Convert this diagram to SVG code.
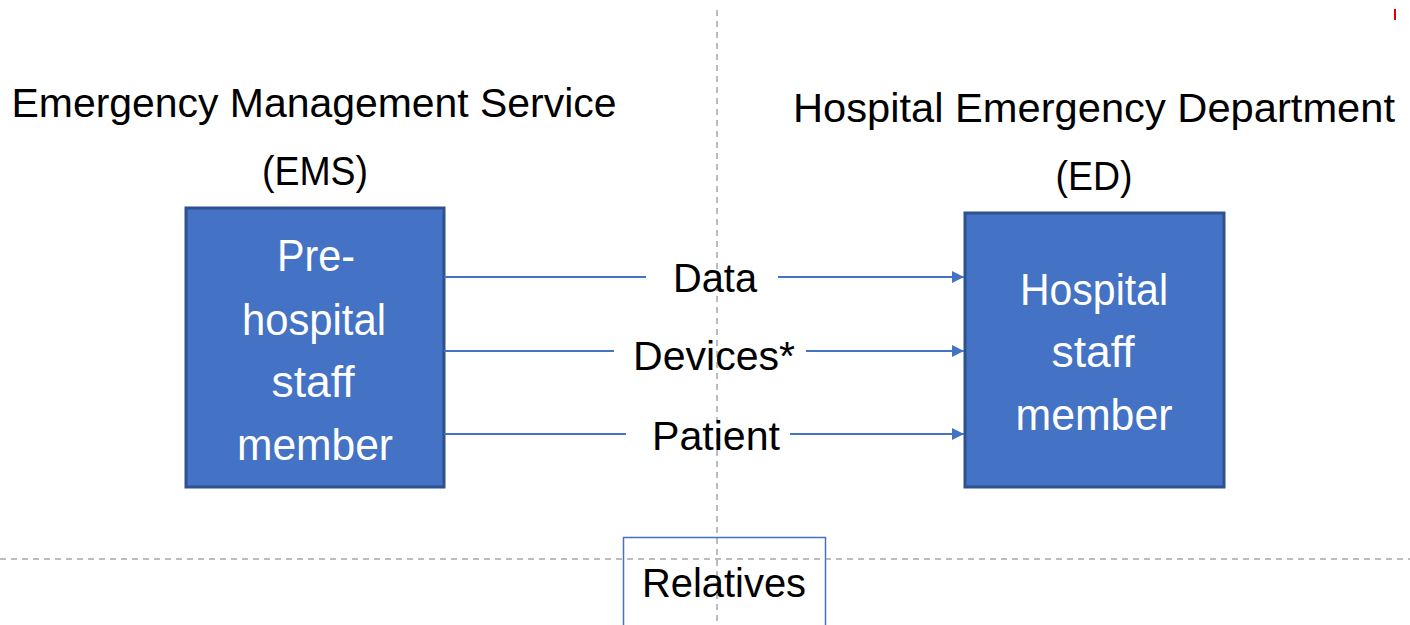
<svg xmlns="http://www.w3.org/2000/svg" width="1410" height="625" viewBox="0 0 1410 625">
<style>
.t{font-family:"Liberation Sans","Open Sans",sans-serif;fill:#000;text-anchor:middle}
.w{font-family:"Liberation Sans","Open Sans",sans-serif;fill:#fff;text-anchor:middle;font-size:44px}
.box{fill:#4472C4;stroke:#2F528F;stroke-width:3}
.dash{stroke:#A6A6A6;stroke-width:1.5;stroke-dasharray:6 5;fill:none}
.con{stroke:#4472C4;stroke-width:2;fill:none}
</style>
<defs>
<marker id="ah" markerWidth="12" markerHeight="12" refX="12" refY="6" orient="auto" markerUnits="userSpaceOnUse">
<path d="M0,0 L12,6 L0,12 Z" fill="#4472C4"/>
</marker>
</defs>
<rect width="1410" height="625" fill="#fff"/>
<rect x="1394" y="9" width="2" height="11" fill="#e00000"/>
<g id="dividers">
<line class="dash" x1="717" y1="10" x2="717" y2="625"/>
<line class="dash" x1="0" y1="559" x2="1410" y2="559"/>
</g>
<g id="titles">
<text class="t" x="314" y="117" font-size="40" textLength="605" lengthAdjust="spacingAndGlyphs">Emergency Management Service</text>
<text class="t" x="315" y="185" font-size="40" textLength="106" lengthAdjust="spacingAndGlyphs">(EMS)</text>
<text class="t" x="1094" y="122" font-size="40" textLength="602" lengthAdjust="spacingAndGlyphs">Hospital Emergency Department</text>
<text class="t" x="1094" y="190" font-size="40" textLength="77" lengthAdjust="spacingAndGlyphs">(ED)</text>
</g>
<g id="ems-node">
<rect class="box" x="186" y="208" width="258" height="279"/>
<text class="w" x="316" y="271" textLength="78" lengthAdjust="spacingAndGlyphs">Pre-</text>
<text class="w" x="314" y="335" textLength="144" lengthAdjust="spacingAndGlyphs">hospital</text>
<text class="w" x="313" y="397" textLength="83" lengthAdjust="spacingAndGlyphs">staff</text>
<text class="w" x="315" y="460" textLength="156" lengthAdjust="spacingAndGlyphs">member</text>
</g>
<g id="ed-node">
<rect class="box" x="965" y="213" width="259" height="274"/>
<text class="w" x="1094" y="305" textLength="148" lengthAdjust="spacingAndGlyphs">Hospital</text>
<text class="w" x="1093" y="367" textLength="83" lengthAdjust="spacingAndGlyphs">staff</text>
<text class="w" x="1094" y="430" textLength="157" lengthAdjust="spacingAndGlyphs">member</text>
</g>
<g id="connectors">
<line class="con" x1="444" y1="277" x2="646" y2="277"/>
<line class="con" x1="778" y1="277" x2="964" y2="277" marker-end="url(#ah)"/>
<line class="con" x1="444" y1="351" x2="614" y2="351"/>
<line class="con" x1="806" y1="351" x2="964" y2="351" marker-end="url(#ah)"/>
<line class="con" x1="444" y1="434" x2="626" y2="434"/>
<line class="con" x1="790" y1="434" x2="964" y2="434" marker-end="url(#ah)"/>
<text class="t" x="715" y="292" font-size="40" textLength="84" lengthAdjust="spacingAndGlyphs">Data</text>
<text class="t" x="714" y="370" font-size="40" textLength="162" lengthAdjust="spacingAndGlyphs">Devices*</text>
<text class="t" x="716" y="450" font-size="40" textLength="128" lengthAdjust="spacingAndGlyphs">Patient</text>
</g>
<g id="relatives-node">
<rect x="623.5" y="537.5" width="202" height="95" fill="none" stroke="#4472C4" stroke-width="1.5"/>
<text class="t" x="724" y="597" font-size="40" textLength="164" lengthAdjust="spacingAndGlyphs">Relatives</text>
</g>
</svg>
